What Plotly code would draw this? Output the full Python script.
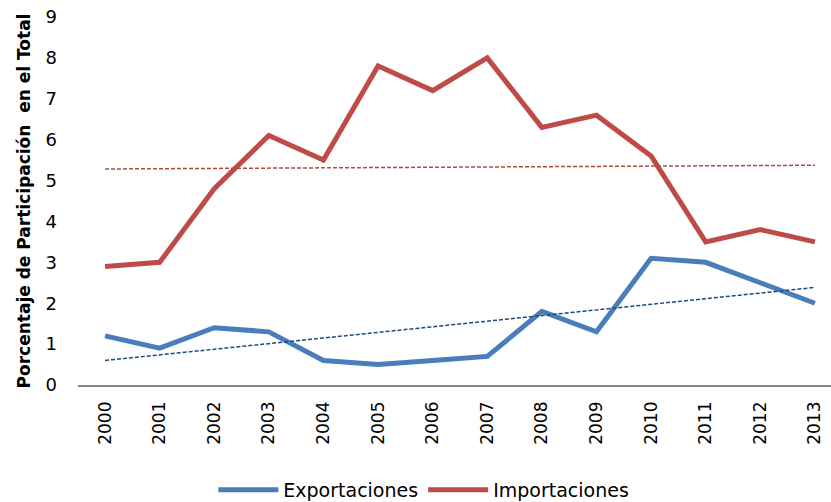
import numpy as np
import plotly.graph_objects as go

years = ["2000", "2001", "2002", "2003", "2004", "2005", "2006",
         "2007", "2008", "2009", "2010", "2011", "2012", "2013"]
exportaciones = [1.2, 0.9, 1.4, 1.3, 0.6, 0.5, 0.6, 0.7, 1.8, 1.3, 3.1, 3.0, 2.5, 2.0]
importaciones = [2.9, 3.0, 4.8, 6.1, 5.5, 7.8, 7.2, 8.0, 6.3, 6.6, 5.6, 3.5, 3.8, 3.5]

# linear trend lines (like the Excel trendline)
idx = np.arange(len(years))
exp_fit = np.polyval(np.polyfit(idx, exportaciones, 1), idx)
imp_fit = np.polyval(np.polyfit(idx, importaciones, 1), idx)

font = "DejaVu Sans"

fig = go.Figure()
fig.add_trace(go.Scatter(x=idx, y=exportaciones, mode="lines", name="Exportaciones",
                         line=dict(color="#4A7EBB", width=5)))
fig.add_trace(go.Scatter(x=idx, y=importaciones, mode="lines", name="Importaciones",
                         line=dict(color="#BE4B48", width=5)))
fig.add_trace(go.Scatter(x=idx, y=exp_fit, mode="lines", showlegend=False,
                         line=dict(color="#1F497D", width=1.5, dash="4px,2px")))
fig.add_trace(go.Scatter(x=idx, y=imp_fit, mode="lines", showlegend=False,
                         line=dict(color="#B04A47", width=1.5, dash="4px,2px")))

fig.update_layout(
    width=831, height=502,
    margin=dict(l=78, r=0, t=17, b=117, autoexpand=False),
    plot_bgcolor="white", paper_bgcolor="white",
    font=dict(family=font, size=17, color="#000000"),
    showlegend=True,
    legend=dict(orientation="h", xref="container", yref="paper",
                x=0.51, xanchor="center", y=-0.285, yanchor="middle",
                font=dict(size=19), itemwidth=60),
    xaxis=dict(range=[-0.495, 13.295], tickmode="array", tickvals=idx, ticktext=years,
               tickangle=-90, showgrid=False, zeroline=False, showline=True,
               linecolor="#868686", linewidth=1.5, ticks="", ticklabelstandoff=8,
               tickfont=dict(size=17), automargin=False),
    yaxis=dict(range=[0, 9], dtick=1, showgrid=False, zeroline=False, showline=False,
               ticks="", ticklabelstandoff=20, tickfont=dict(size=18), automargin=False,
               title=dict(text="<b>Porcentaje de Participación  en el Total</b>",
                          font=dict(size=17), standoff=10)),
)

# drop the browser's default page margin so the chart fills the window
fig.write_html("out.html", config={"displayModeBar": False},
               post_script="document.body.style.margin='0';")
